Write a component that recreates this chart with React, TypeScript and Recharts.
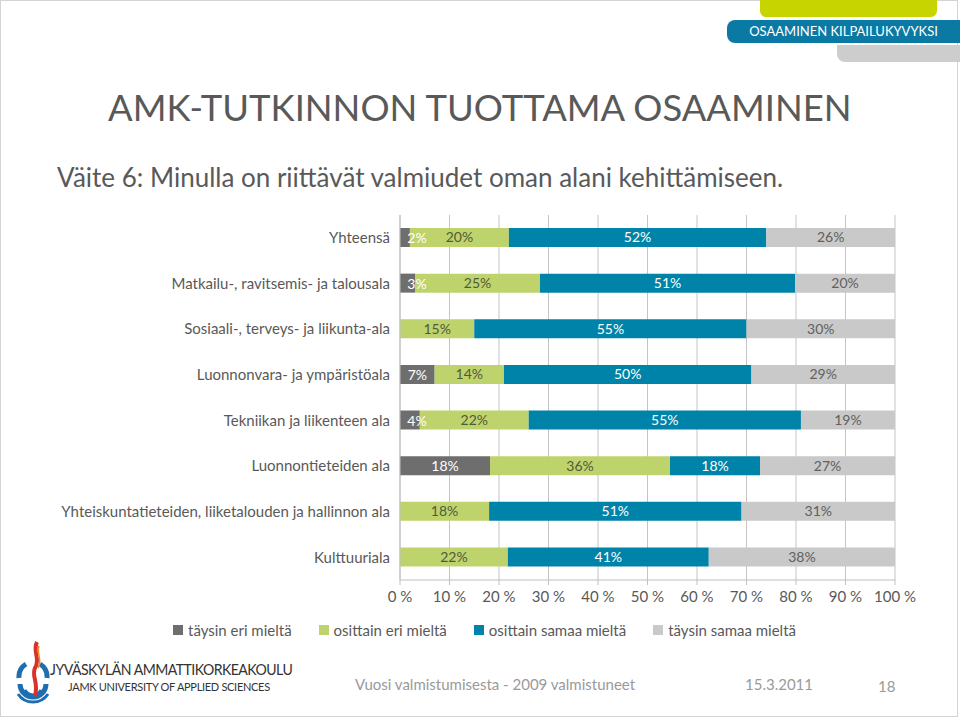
import {
  Bar,
  BarChart,
  CartesianGrid,
  LabelList,
  Legend,
  XAxis,
  YAxis,
} from "recharts";

const categories = [
  "Yhteensä",
  "Matkailu-, ravitsemis- ja talousala",
  "Sosiaali-, terveys- ja liikunta-ala",
  "Luonnonvara- ja ympäristöala",
  "Tekniikan ja liikenteen ala",
  "Luonnontieteiden ala",
  "Yhteiskuntatieteiden, liiketalouden ja hallinnon ala",
  "Kulttuuriala",
];

const seriesNames = [
  "täysin eri mieltä",
  "osittain eri mieltä",
  "osittain samaa mieltä",
  "täysin samaa mieltä",
];

const taysinEri = [2, 3, 0, 7, 4, 18, 0, 0];
const osittainEri = [20, 25, 15, 14, 22, 36, 18, 22];
const osittainSamaa = [52, 51, 55, 50, 55, 18, 51, 41];
const taysinSamaa = [26, 20, 30, 29, 19, 27, 31, 38];

const xTicks = [0, 0.1, 0.2, 0.3, 0.4, 0.5, 0.6, 0.7, 0.8, 0.9, 1];

const data = categories.map((name, i) => ({
  name,
  te: taysinEri[i],
  oe: osittainEri[i],
  os: osittainSamaa[i],
  ts: taysinSamaa[i],
}));

const FONT = "Lato, 'Open Sans', sans-serif";
const TEXT = "#595959";
const COLORS = ["#6e6e6e", "#bfd36c", "#0083a8", "#c9c9c9"];
const KEYS = ["te", "oe", "os", "ts"];

const pct = (v: unknown) => (Number(v) ? `${v}%` : "");

function LegendRow(props: any) {
  const items = [...(props.payload || [])].sort(
    (a: any, b: any) => seriesNames.indexOf(a.value) - seriesNames.indexOf(b.value)
  );
  return (
    <div style={{ display: "flex", gap: 27, fontFamily: FONT, fontSize: 15, color: TEXT }}>
      {items.map((it: any) => (
        <div key={it.value} style={{ display: "flex", alignItems: "center" }}>
          <span style={{ width: 10, height: 10, background: it.color, marginRight: 5, display: "inline-block" }} />
          {it.value}
        </div>
      ))}
    </div>
  );
}

// first segment label: centred, but kept inside the plot like Excel does
function FirstLabel(props: any) {
  const { x, y, width, height, value } = props;
  if (!Number(value)) return null;
  const cx = Math.max(Number(x) + Number(width) / 2, Number(x) + 17);
  return (
    <text x={cx} y={Number(y) + Number(height) / 2} textAnchor="middle" dominantBaseline="central" fill="#ffffff" fontSize={14} fontFamily={FONT}>
      {`${value}%`}
    </text>
  );
}

function Logo() {
  return (
    <svg width={34} height={76} style={{ position: "absolute", left: 16, top: 640 }}>
      <path d="M4 44 A13 13 0 0 0 30 44" fill="none" stroke="#1f6fb0" strokeWidth={5} />
      <path d="M3 38 A15 15 0 0 1 10 24" fill="none" stroke="#1f6fb0" strokeWidth={5} />
      <path d="M31 38 A15 15 0 0 0 24 24" fill="none" stroke="#1f6fb0" strokeWidth={5} />
      <path d="M9 50 A9 9 0 0 0 25 50" fill="none" stroke="#1f6fb0" strokeWidth={3} />
      <path d="M2 54 A18 18 0 0 0 32 54" fill="none" stroke="#1f6fb0" strokeWidth={3} />
      <path d="M21 2 C16 12 25 18 19 28 C15 36 23 42 19 56" fill="none" stroke="#d8322a" strokeWidth={4} />
      <path d="M23 6 C20 14 27 20 22 28" fill="none" stroke="#f08a24" strokeWidth={1.5} />
    </svg>
  );
}

export default function App() {
  return (
    <div
      style={{
        position: "absolute",
        left: 0,
        top: 0,
        width: 960,
        height: 718,
        background: "#fff",
        overflow: "hidden",
        fontFamily: FONT,
      }}
    >
      <div style={{ position: "absolute", left: 0, top: 0, width: 956, height: 715, border: "1px solid #d4d4d4" }} />

      <div style={{ position: "absolute", left: 760, top: 0, width: 177, height: 17, background: "#c7d400", borderRadius: "0 0 6px 6px" }} />
      <div
        style={{
          position: "absolute",
          left: 727,
          top: 20,
          width: 233,
          height: 23,
          background: "#0a7aa5",
          borderRadius: "8px 0 0 8px",
          color: "#fff",
          fontSize: 13,
          lineHeight: "23px",
          textAlign: "center",
        }}
      >
        OSAAMINEN KILPAILUKYVYKSI
      </div>
      <div style={{ position: "absolute", left: 837, top: 45, width: 123, height: 17, background: "#cdcdcd", borderRadius: "0 0 0 8px" }} />

      <div style={{ position: "absolute", left: 108, top: 85, fontSize: 36.4, color: TEXT, whiteSpace: "nowrap" }}>
        AMK-TUTKINNON TUOTTAMA OSAAMINEN
      </div>
      <div style={{ position: "absolute", left: 57, top: 161, fontSize: 26, color: TEXT, whiteSpace: "nowrap" }}>
        Väite 6: Minulla on riittävät valmiudet oman alani kehittämiseen.
      </div>

      <div style={{ position: "absolute", left: 0, top: 0 }}>
        <BarChart
          width={960}
          height={718}
          data={data}
          layout="vertical"
          stackOffset="expand"
          margin={{ top: 215, right: 65, bottom: 108, left: 0 }}
        >
          <CartesianGrid horizontal={false} stroke="#c4c4c4" />
          <XAxis
            type="number"
            domain={[0, 1]}
            ticks={xTicks}
            tickFormatter={(v) => `${Math.round(Number(v) * 100)} %`}
            axisLine={{ stroke: "#bfbfbf" }}
            tickLine={{ stroke: "#bfbfbf" }}
            tickSize={5}
            tickMargin={6}
            height={30}
            tick={{ fill: TEXT, fontSize: 15, fontFamily: FONT }}
          />
          <YAxis
            type="category"
            dataKey="name"
            width={400}
            axisLine={{ stroke: "#bfbfbf" }}
            tickLine={false}
            tickMargin={4}
            tick={{ fill: TEXT, fontSize: 15, fontFamily: FONT }}
          />
          <Legend
            layout="horizontal"
            verticalAlign="middle"
            align="center"
            wrapperStyle={{ top: 621, left: 173, width: 700 }}
            content={LegendRow}
          />
          <Bar dataKey="te" name={seriesNames[0]} stackId="a" fill={COLORS[0]} barSize={19} isAnimationActive={false} />
          <Bar dataKey="oe" name={seriesNames[1]} stackId="a" fill={COLORS[1]} barSize={19} isAnimationActive={false}>
            <LabelList dataKey="oe" position="center" formatter={pct} fill="#4f5a3a" fontSize={14} fontFamily={FONT} />
          </Bar>
          <Bar dataKey="os" name={seriesNames[2]} stackId="a" fill={COLORS[2]} barSize={19} isAnimationActive={false}>
            <LabelList dataKey="os" position="center" formatter={pct} fill="#ffffff" fontSize={14} fontFamily={FONT} />
          </Bar>
          <Bar dataKey="ts" name={seriesNames[3]} stackId="a" fill={COLORS[3]} barSize={19} isAnimationActive={false}>
            <LabelList dataKey="ts" position="center" formatter={pct} fill="#606060" fontSize={14} fontFamily={FONT} />
          </Bar>
        </BarChart>
      </div>

      {/* overlay with transparent bars so the first-segment labels sit on top */}
      <div style={{ position: "absolute", left: 0, top: 0, pointerEvents: "none" }}>
        <BarChart
          width={960}
          height={718}
          data={data}
          layout="vertical"
          stackOffset="expand"
          margin={{ top: 215, right: 65, bottom: 138, left: 400 }}
        >
          <XAxis type="number" domain={[0, 1]} hide />
          <YAxis type="category" dataKey="name" hide />
          {KEYS.map((k, i) => (
            <Bar key={k} dataKey={k} stackId="a" fill="transparent" barSize={19} isAnimationActive={false}>
              {i === 0 ? <LabelList dataKey="te" content={FirstLabel} /> : null}
            </Bar>
          ))}
        </BarChart>
      </div>

      <Logo />
      <div style={{ position: "absolute", left: 50, top: 659, fontSize: 16, color: "#333", letterSpacing: -0.6, whiteSpace: "nowrap", transform: "scaleX(0.88)", transformOrigin: "left" }}>
        JYVÄSKYLÄN AMMATTIKORKEAKOULU
      </div>
      <div style={{ position: "absolute", left: 68, top: 680, fontSize: 11, color: "#333", letterSpacing: -0.3, whiteSpace: "nowrap" }}>
        JAMK UNIVERSITY OF APPLIED SCIENCES
      </div>
      <div style={{ position: "absolute", left: 355, top: 675, fontSize: 15, color: "#9a9a9a", whiteSpace: "nowrap" }}>
        Vuosi valmistumisesta - 2009 valmistuneet
      </div>
      <div style={{ position: "absolute", left: 745, top: 675, fontSize: 15, color: "#9a9a9a" }}>15.3.2011</div>
      <div style={{ position: "absolute", left: 878, top: 677, fontSize: 15, color: "#9a9a9a" }}>18</div>
    </div>
  );
}
